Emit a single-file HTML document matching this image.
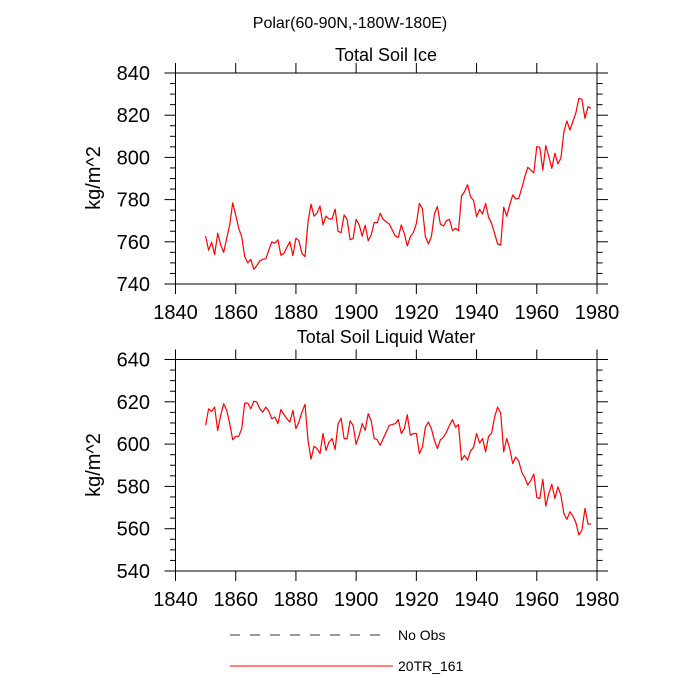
<!DOCTYPE html>
<html><head><meta charset="utf-8"><style>
html,body{margin:0;padding:0;background:#fff;}
svg{display:block;font-family:"Liberation Sans",sans-serif;}
</style></head><body>
<svg id="chart" width="700" height="700">
<text x="350" y="28" font-size="16" text-anchor="middle">Polar(60-90N,-180W-180E)</text>
<text x="386" y="61" font-size="18" text-anchor="middle">Total Soil Ice</text>
<text x="386" y="343" font-size="18" text-anchor="middle">Total Soil Liquid Water</text>
<text transform="translate(100,178) rotate(-90)" font-size="20" text-anchor="middle">kg/m^2</text>
<text transform="translate(100,465) rotate(-90)" font-size="20" text-anchor="middle">kg/m^2</text>
<g>
<line x1="230" y1="635" x2="386" y2="635" stroke="#333" stroke-width="1" stroke-dasharray="10,10"/>
<text x="398" y="640" font-size="14">No Obs</text>
<line x1="230" y1="666" x2="393" y2="666" stroke="#f00" stroke-width="1"/>
<text x="398" y="671" font-size="14">20TR_161</text>
</g>
</svg>
<script>
const years = [];
for (let y = 1850; y <= 1978; y++) years.push(y);
const soilIce = [762.7,756,759.8,754,764,758.5,755,761.7,768,778.5,772.7,766.4,762.4,753,750,751.7,747,748.7,751,751.7,
752,756,760,759.3,761,753.6,754.5,757.4,760,753.4,761.7,760.5,754.5,753,769.5,777.8,772.2,773.5,777,768,
772.2,770.8,770.8,775.5,765,764.3,772.7,770.6,761,761.5,770.6,768,762.7,767.8,760.5,763.2,769.2,769,773.5,770.6,
769.5,768.4,765.6,762.7,762.1,768,764,758,762.4,764.3,768.7,778.2,775.7,762.4,759,762.4,773.2,776.7,768.4,767.5,
770,770.6,765.3,766.4,765.3,781.7,783.8,787,781.4,779.5,771.9,775.4,773.2,778.2,771.6,768.7,764,759,758.5,776.4,
772.2,777.4,782.2,780.3,780.6,785.3,790.6,795.3,794,792.7,805.1,804.8,794,805.6,800.4,794.8,802,796.9,799.6,812.2,
817.3,813,817,821.2,828,827.5,818.5,824,823.3];
const soilLiquid = [608.9,616.7,615.5,617.5,606.5,613.6,619.1,616,609.7,602.1,603.7,603.7,607.3,619.4,619.4,616.7,620.3,619.9,616.7,615.1,
617.5,615.6,612,612.8,609.7,616.3,614,612,610.4,616,607.3,610.4,615.1,618.8,601.8,592.8,599,597.9,595.5,605,
597,601,602.6,597.4,609.7,612.3,602.6,602.6,610.9,608.9,599.9,604.2,609.7,606.5,614.4,610.9,602.6,602.1,599.4,602.6,
605.7,608.9,609.2,609.7,611.6,605,607.3,613.9,604.2,605,605,595.5,598.6,608,610.4,607.3,601.8,597.9,602.1,603.3,
605.7,608.9,611.6,608,609.2,592.4,594.7,592.4,596.7,598.6,605,600.5,602.6,596.3,603.7,605.2,612.8,617.5,614.7,596.3,
602.6,597.9,590.8,593.9,592,586.8,584.2,580.6,582.9,585.8,574.8,574.3,583.3,570.7,576.6,581,574.3,579.8,575.8,567.2,
564.4,568,566,562.8,557,559.3,569.6,562.2,562.2];
const xTicks = [1840,1860,1880,1900,1920,1940,1960,1980];
const topYTicks = [740,760,780,800,820,840];
const botYTicks = [540,560,580,600,620,640];

const NS = "http://www.w3.org/2000/svg";
const svg = document.getElementById('chart');
function mk(tag, attrs, parent){const e=document.createElementNS(NS,tag);for(const k in attrs)e.setAttribute(k,attrs[k]);(parent||svg).appendChild(e);return e;}
const L=175.5, R=597, xMin=1840, xMax=1980;
const xs = v => L + (v - xMin) / (xMax - xMin) * (R - L);

function panel(name, top, bottom, yMin, yMax, yTicks, data){
  const ys = v => bottom - (v - yMin) / (yMax - yMin) * (bottom - top);
  const g = mk('g', {});
  
  
  const frame = mk('rect', {x:L, y:top, width:R-L, height:bottom-top, fill:'none', stroke:'#000', 'stroke-width':1}, g);
  
  
  xTicks.forEach(t => {
    const x = xs(t);
    mk('line', {x1:x, y1:bottom, x2:x, y2:bottom+10, stroke:'#000'}, g);
    mk('line', {x1:x, y1:top, x2:x, y2:top-10, stroke:'#000'}, g);
    const lab = mk('text', {x:x, y:bottom+35, 'font-size':20, 'text-anchor':'middle'}, g);
    lab.textContent = t;
    
    
  });
  for (let v = yMin; v <= yMax; v += 5) {
    const y = ys(v);
    const major = (v - yMin) % 20 === 0;
    const len = major ? 11 : 5.5;
    mk('line', {x1:L, y1:y, x2:L-len, y2:y, stroke:'#000'}, g);
    mk('line', {x1:R, y1:y, x2:R+len, y2:y, stroke:'#000'}, g);
  }
  yTicks.forEach(t => {
    const lab = mk('text', {x:150, y:ys(t)+7, 'font-size':20, 'text-anchor':'end'}, g);
    lab.textContent = t;
    
    
  });
  const pts = data.map((v,i) => xs(years[i]).toFixed(1) + ',' + ys(v).toFixed(1)).join(' ');
  const line = mk('polyline', {points:pts, fill:'none', stroke:'#f00', 'stroke-width':1.2, 'stroke-linejoin':'round'}, g);
  
  
}
panel('soil-ice', 73, 284, 740, 840, topYTicks, soilIce);
panel('soil-liquid', 359.5, 571, 540, 640, botYTicks, soilLiquid);
</script>
</body></html>
